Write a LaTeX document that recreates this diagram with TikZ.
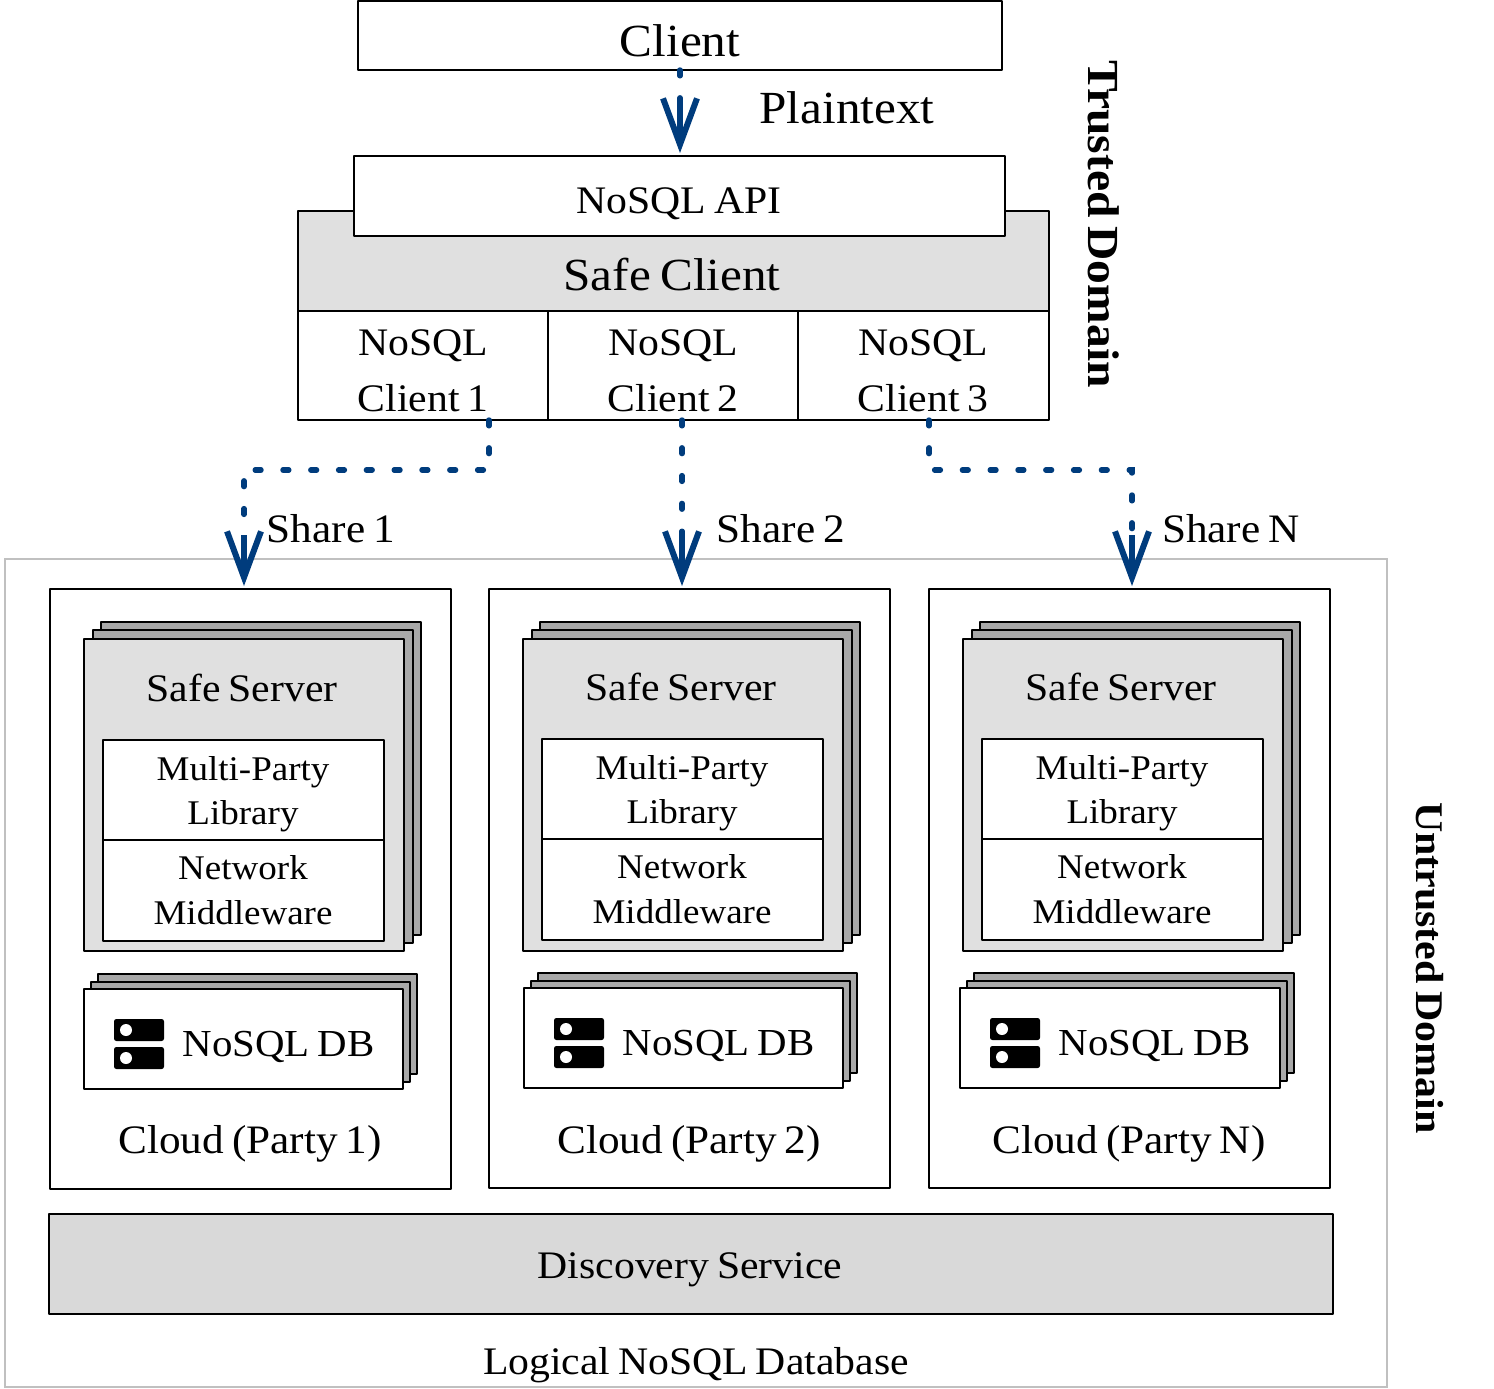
\documentclass[tikz,border=0pt]{standalone}
\usepackage{fontspec}
\setmainfont[FakeStretch=1.07,WordSpace=0.75]{Liberation Serif}
\usetikzlibrary{arrows.meta}
\definecolor{arrowblue}{HTML}{003C7D}
\definecolor{panel}{HTML}{E0E0E0}
\definecolor{backpanel}{HTML}{A8A8A8}
\definecolor{discovery}{HTML}{D9D9D9}
\definecolor{outer}{HTML}{C0C0C0}
\tikzset{
  x=0.5pt,y=-0.5pt,
  bx/.style={draw=black,line width=1.45pt,line join=round,inner sep=0pt,outer sep=0pt},
  whitebox/.style={bx,fill=white},
  greybox/.style={bx,fill=panel},
  backbox/.style={bx,fill=backpanel},
  discbox/.style={bx,fill=discovery},
  outerbox/.style={draw=outer,line width=0.75pt,inner sep=0pt,outer sep=0pt},
  big/.style={anchor=base,inner sep=0pt,font=\fontsize{23}{27}\selectfont},
  mid/.style={anchor=base,inner sep=0pt,font=\fontsize{19.5}{24}\selectfont},
  wide/.style={anchor=base,inner sep=0pt,font=\fontsize{20.2}{24}\selectfont},
  dbtext/.style={anchor=base,inner sep=0pt,font=\fontsize{19.1}{24}\selectfont},
  small/.style={anchor=base,inner sep=0pt,font=\fontsize{17.3}{22}\selectfont},
  dashline/.style={draw=arrowblue,line width=2.7pt,line cap=round,dash pattern=on 2.9pt off 11pt},
  headline/.style={draw=arrowblue,line width=2.6pt,-{Straight Barb[length=23pt,width=17pt,line width=3pt]}},
  dbicon/.style={fill=black,rounded corners=1.2pt},
}
% \rb{name}{x1}{y1}{x2}{y2}{style}
\newcommand{\rb}[6]{\node[#6,minimum width={((#4)-(#2))*0.5pt},minimum height={((#5)-(#3))*0.5pt}] (#1) at ({((#2)+(#4))/2},{((#3)+(#5))/2}) {};}
\newcommand{\server}[5]{% tag, x, innerx, y shift of inner, texty
  \rb{#1b}{#2+17}{622}{#2+337}{935}{backbox}
  \rb{#1m}{#2+9}{630}{#2+329}{943}{backbox}
  \rb{#1f}{#2}{639}{#2+320}{951}{greybox}
  \rb{#1lib}{#3}{#4}{#3+281}{#4+100}{whitebox}
  \rb{#1net}{#3}{#4+100}{#3+281}{#4+201}{whitebox}
  \node[mid] (#1t) at (#3+139,#5) {Safe Server};
  \node[small] (#1l1) at (#3+140,#4+40) {Multi-Party};
  \node[small] (#1l2) at (#3+140,#4+84) {Library};
  \node[small] (#1n1) at (#3+140,#4+139) {Network};
  \node[small] (#1n2) at (#3+140,#4+184) {Middleware};
}
\newcommand{\dbstack}[4]{% tag, x, y, width
  \rb{#1b}{#2+14}{#3-15}{#2+#4+14}{#3+85}{backbox}
  \rb{#1m}{#2+7}{#3-7}{#2+#4+7}{#3+93}{backbox}
  \rb{#1f}{#2}{#3}{#2+#4}{#3+100}{whitebox}
  \fill[dbicon] (#2+30,#3+30) rectangle (#2+80,#3+52);
  \fill[dbicon] (#2+30,#3+58) rectangle (#2+80,#3+80);
  \fill[white] (#2+42,#3+41) circle (3pt) (#2+42,#3+69) circle (3pt);
  \node[dbtext] (#1t) at (#2+194.5,#3+67) {NoSQL DB};
}
\begin{document}
\begin{tikzpicture}
\useasboundingbox (0,0) rectangle (1494,1388);
% trusted
\rb{client}{358}{1}{1002}{70}{whitebox}
\node[big] (clientt) at (680,56) {Client};
\node[big] (plain) at (847,123) {Plaintext};
\rb{safeclient}{298}{211}{1049}{311}{greybox}
\rb{api}{354}{156}{1005}{236}{whitebox}
\node[mid] (apit) at (679,213) {NoSQL API};
\node[big] (safet) at (672,290) {Safe Client};
\rb{nc1}{298}{311}{548}{420}{whitebox}
\rb{nc2}{548}{311}{798}{420}{whitebox}
\rb{nc3}{798}{311}{1049}{420}{whitebox}
\foreach \n/\x/\c in {1/423/1,2/673/2,3/923/3}{
  \node[mid] (nc\n a) at (\x,355) {NoSQL};
  \node[mid] (nc\n b) at (\x,411) {Client \c};
}
\node[big,font=\fontsize{22.2}{27}\selectfont\bfseries,rotate=-90] (trusted) at (1088,224) {Trusted Domain};
% untrusted
\rb{logical}{5}{559}{1387}{1387}{outerbox}
\rb{cloud1}{50}{589}{451}{1189}{whitebox}
\rb{cloud2}{489}{589}{890}{1188}{whitebox}
\rb{cloudN}{929}{589}{1330}{1188}{whitebox}
\server{sa}{84}{103}{740}{701}
\server{sb}{523}{542}{739}{700}
\server{sc}{963}{982}{739}{700}
\dbstack{da}{84}{989}{319}
\dbstack{db}{524}{988}{319}
\dbstack{dc}{960}{988}{320}
\node[wide] (c1t) at (250,1153) {Cloud (Party 1)};
\node[wide] (c2t) at (689,1153) {Cloud (Party 2)};
\node[wide] (c3t) at (1129,1153) {Cloud (Party N)};
\rb{disc}{49}{1214}{1333}{1314}{discbox}
\node[mid] (disct) at (690,1278) {Discovery Service};
\node[mid] (logt) at (696,1374) {Logical NoSQL Database};
\node[big,font=\fontsize{19.6}{24}\selectfont\bfseries,rotate=-90] (untrusted) at (1416,968) {Untrusted Domain};
\node[wide] (s1) at (331,542) {Share 1};
\node[wide] (s2) at (781,542) {Share 2};
\node[wide] (s3) at (1231,542) {Share N};
% connectors
\coordinate (h0) at (680,102); \coordinate (t0) at (680,153);
\draw[dashline] (client.south -| h0) -- (h0);
\draw[headline] (h0) -- (t0);
\coordinate (o1) at (489,420); \coordinate (h1) at (244,535); \coordinate (t1) at (244,586);
\draw[dashline] (o1) -- (489,470) -- (244,470) -- (h1);
\draw[headline] (h1) -- (t1);
\coordinate (o2) at (682,420); \coordinate (h2) at (682,535); \coordinate (t2) at (682,586);
\draw[dashline] (o2) -- (h2);
\draw[headline] (h2) -- (t2);
\coordinate (o3) at (929,420); \coordinate (h3) at (1132,535); \coordinate (t3) at (1132,586);
\draw[dashline] (o3) -- (929,470) -- (1132,470) -- (h3);
\draw[headline] (h3) -- (t3);
\end{tikzpicture}
\end{document}
